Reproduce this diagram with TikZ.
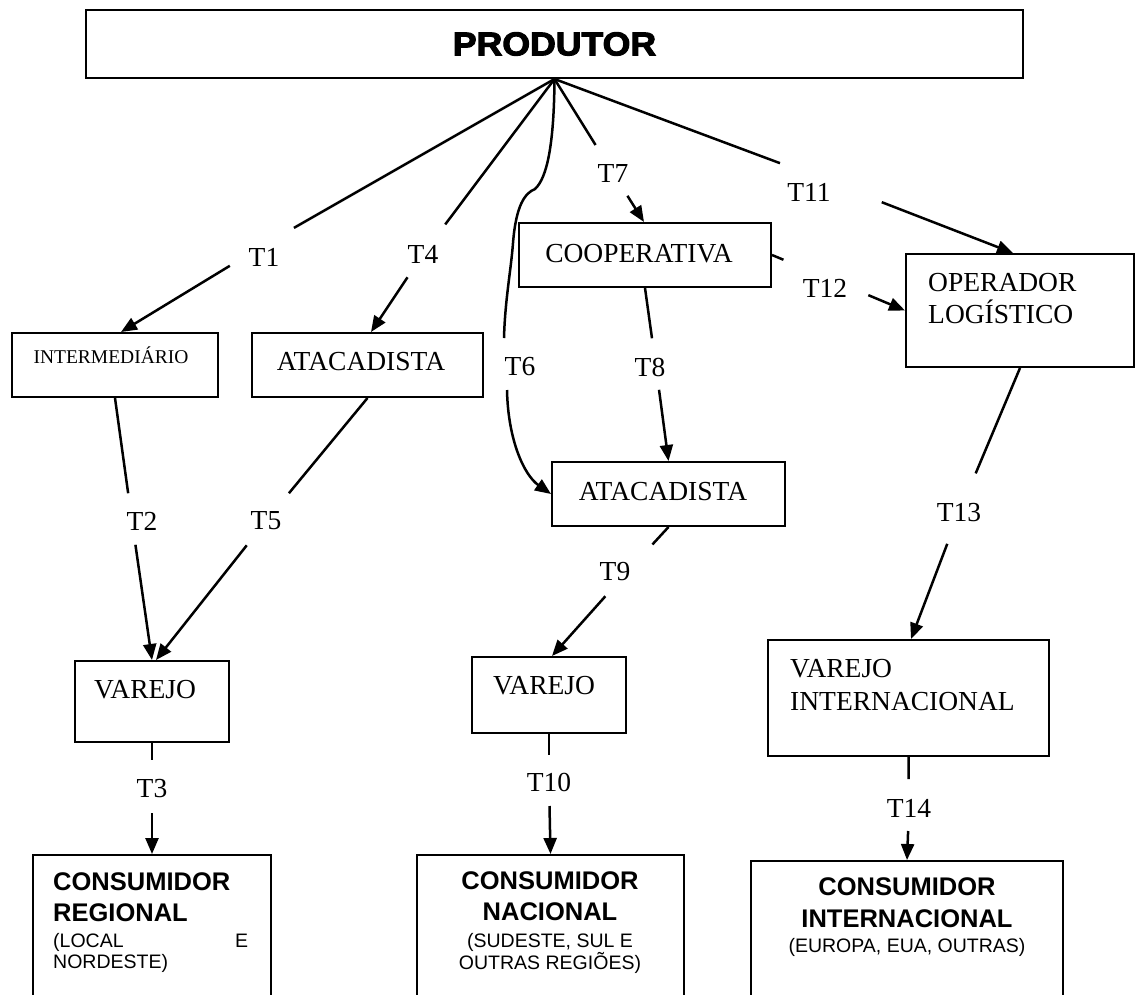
\documentclass[tikz,border=0pt]{standalone}
\usepackage{fontspec}
\setmainfont{Liberation Serif}
\newfontfamily\arialfont{Liberation Sans}
\newfontfamily\heavyfont{Liberation Sans Bold}[FakeBold=3]
\usetikzlibrary{arrows.meta}
\begin{document}
\begin{tikzpicture}[x=1pt,y=-1pt,
  box/.style={draw, line width=2pt, rectangle, inner sep=0pt},
  conn/.style={line width=2.5pt},
  arr/.style={conn, -{Triangle[length=16pt,width=13pt]}},
  roman/.style={inner sep=0pt, font=\fontsize{27.5}{32}\selectfont},
  tlab/.style={roman},
  small/.style={inner sep=0pt, font=\fontsize{19.5}{23}\selectfont},
  cons/.style={inner sep=0pt, font=\arialfont\bfseries\fontsize{25.5}{31}\selectfont},
  consub/.style={inner sep=0pt, font=\arialfont\fontsize{19.5}{21}\selectfont},
]
\useasboundingbox (0,0) rectangle (1137,994);
\clip (0,0) rectangle (1137,994);

% boxes
\node[box, minimum width=937pt, minimum height=68pt,
      font=\heavyfont\fontsize{33}{40}\selectfont] (prod) at (554.5,44) {\scalebox{1.08}[1]{PRODUTOR}};
\node[box, minimum width=206pt, minimum height=64pt] (inter) at (115,365) {};
\node[box, minimum width=231pt, minimum height=64pt] (ata1) at (367.5,365) {};
\node[box, minimum width=252pt, minimum height=64pt] (coop) at (645,255) {};
\node[box, minimum width=228pt, minimum height=113pt] (oper) at (1020,310.5) {};
\node[box, minimum width=233pt, minimum height=64pt] (ata2) at (668.5,494) {};
\node[box, minimum width=154.6pt, minimum height=81pt] (var1) at (152,701.5) {};
\node[box, minimum width=154pt, minimum height=76pt] (var2) at (549,695) {};
\node[box, minimum width=281pt, minimum height=116pt] (varint) at (908.5,698) {};
\node[box, minimum width=238pt, minimum height=170pt, anchor=north] (creg) at (152,854) {};
\node[box, minimum width=267pt, minimum height=170pt, anchor=north] (cnac) at (550.5,854) {};
\node[box, minimum width=312pt, minimum height=170pt, anchor=north] (cint) at (907,860) {};

% box texts
\node[small, anchor=base] (interT) at (111,363) {INTERMEDIÁRIO};
\node[roman, anchor=base] (ata1T) at (361,370) {ATACADISTA};
\node[roman, anchor=base] (coopT) at (639,262) {COOPERATIVA};
\node[roman, anchor=north west, align=left] (operT) at (928,273) {OPERADOR\\LOGÍSTICO};
\node[roman, anchor=base] (ata2T) at (663,500) {ATACADISTA};
\node[roman, anchor=base] (var1T) at (145,698) {VAREJO};
\node[roman, anchor=base] (var2T) at (544,694) {VAREJO};
\node[roman, anchor=north west, align=left, font=\fontsize{27.5}{33}\selectfont] (varintT) at (790,659) {VAREJO\\INTERNACIONAL};

\node[cons, anchor=north west, align=left] (cregT) at (53,872) {CONSUMIDOR\\REGIONAL};
\node[consub, anchor=north west, align=left] (cregS) at (53,933) {\makebox[195pt][l]{(LOCAL\hfill E}\\NORDESTE)};
\node[cons, anchor=north, align=center] (cnacT) at (550,871) {CONSUMIDOR\\NACIONAL};
\node[consub, anchor=north, align=center] (cnacS) at (550,933) {(SUDESTE, SUL E\\OUTRAS REGIÕES)};
\node[cons, anchor=north, align=center, font=\arialfont\bfseries\fontsize{25.5}{32}\selectfont] (cintT) at (907,877) {CONSUMIDOR\\INTERNACIONAL};
\node[consub, anchor=north] (cintS) at (907,938) {(EUROPA, EUA, OUTRAS)};

% transaction labels
\node[tlab] (t1) at (264,257) {T1};
\node[tlab] (t2) at (142,521) {T2};
\node[tlab] (t3) at (152,789) {T3};
\node[tlab] (t4) at (423,254) {T4};
\node[tlab] (t5) at (266,521) {T5};
\node[tlab] (t6) at (520,367) {T6};
\node[tlab] (t7) at (613,173) {T7};
\node[tlab] (t8) at (650,367) {T8};
\node[tlab] (t9) at (615,572) {T9};
\node[tlab] (t10) at (549,782) {T10};
\node[tlab] (t11) at (809,192) {T11};
\node[tlab] (t12) at (825,288) {T12};
\node[tlab] (t13) at (959,513) {T13};
\node[tlab] (t14) at (909,808) {T14};

% T1
\draw[conn, shorten >=34.5pt] (prod.south) -- ([yshift=12pt]t1.center);
\draw[arr, shorten <=40pt] ([yshift=12pt]t1.center) -- ([xshift=6pt]inter.north);
% T2
\draw[conn, shorten >=28pt] (inter.south) -- ([xshift=-10pt]t2.center);
\draw[arr, shorten <=24pt] ([xshift=-10pt]t2.center) -- (var1.north);
% T3
\draw[conn, shorten >=29pt] (var1.south) -- (t3.center);
\draw[arr, shorten <=24pt] (t3.center) -- (creg.north);
% T4
\draw[conn, shorten >=37pt] (prod.south) -- (t4.center);
\draw[arr, shorten <=28pt] (t4.center) -- ([xshift=3.5pt]ata1.north);
% T5
\draw[conn, shorten >=36pt] (ata1.south) -- (t5.center);
\draw[arr, shorten <=31pt] (t5.center) -- ([xshift=4pt]var1.north);
% T6
\draw[conn] (prod.south) .. controls (554,145) and (547,178) .. (535,189)
  .. controls (525,193) and (516,205) .. (513,243)
  .. controls (511,270) and (505,300) .. ([xshift=-16pt,yshift=29pt]t6.center);
\draw[arr] ([xshift=-13pt,yshift=-23pt]t6.center) .. controls +(1,50) and +(-27,-19) .. (ata2.west);
% T7
\draw[conn, shorten >=33pt] (prod.south) -- (t7.center);
\draw[arr, shorten <=27pt] (t7.center) -- ([xshift=-1pt]coop.north);
% T8
\draw[conn, shorten >=29pt] (coop.south) -- ([xshift=6pt]t8.center);
\draw[arr, shorten <=23pt] ([xshift=6pt]t8.center) -- (ata2.north);
% T9
\draw[conn, shorten >=37.5pt] (ata2.south) -- ([xshift=12pt]t9.center);
\draw[arr, shorten <=32.5pt] ([xshift=12pt]t9.center) -- ([xshift=3pt]var2.north);
% T10
\draw[conn, shorten >=27pt] (var2.south) -- (t10.center);
\draw[arr, shorten <=24pt] (t10.center) -- (cnac.north);
% T11
\draw[conn, shorten >=31pt] (prod.south) -- ([yshift=18pt]t11.center);
\draw[arr, shorten <=78pt] ([yshift=18pt]t11.center) -- ([xshift=-7pt]oper.north);
% T12
\draw[conn, shorten >=45pt] (coop.east) -- ([yshift=11pt]t12.center);
\draw[arr, shorten <=47pt] ([yshift=11pt]t12.center) -- (oper.west);
% T13
\draw[conn, shorten >=43pt] (oper.south) -- (t13.center);
\draw[arr, shorten <=33pt] (t13.center) -- ([xshift=2.5pt]varint.north);
% T14
\draw[conn, shorten >=29pt] (varint.south) -- (t14.center);
\draw[arr, shorten <=23pt] (t14.center) -- (cint.north);
\end{tikzpicture}
\end{document}
